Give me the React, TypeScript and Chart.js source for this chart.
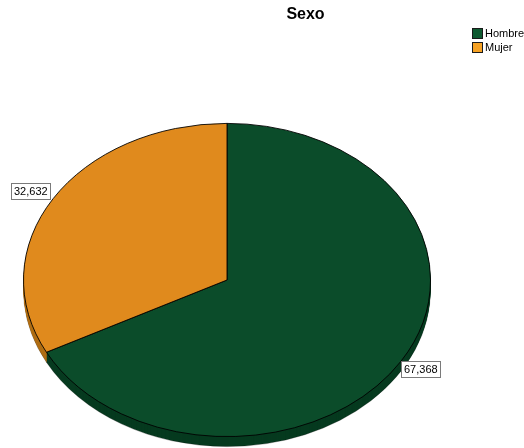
import React, { useEffect, useRef } from "react";
import { Chart, registerables } from "chart.js";

Chart.register(...registerables);

const title = "Sexo";
const categories = ["Hombre", "Mujer"];
const values = [67.368, 32.632];
const topColors = ["#0B4C2A", "#E08A1D"];
const sideColors = ["#063A1F", "#B06E14"];
const legendColors = ["#0E5A31", "#F6A224"];

const W = 524;
const H = 448;
const CENTER_Y = 280; // screen centre of the ellipse
const SQUASH = 157 / 204; // vertical squash of the pie
const DEPTH = 10;
const FONT = '"Liberation Sans", Arial, sans-serif';

const fmt = (v: number) => v.toFixed(3).replace(".", ",");

function applyTilt(ctx: CanvasRenderingContext2D, cy: number) {
  ctx.translate(0, CENTER_Y);
  ctx.scale(1, SQUASH);
  ctx.translate(0, -cy);
}

const tiltPlugin = {
  id: "tilt",
  beforeDatasetsDraw(chart: any) {
    const ctx: CanvasRenderingContext2D = chart.ctx;
    const meta = chart.getDatasetMeta(0);
    const arcs = meta.data as any[];
    if (!arcs.length) return;
    const cy = arcs[0].y;
    // side (depth) of the pie
    for (let d = DEPTH; d >= 1; d--) {
      ctx.save();
      ctx.translate(0, d);
      applyTilt(ctx, cy);
      arcs.forEach((arc, i) => {
        const p = arc.getProps(["x", "y", "startAngle", "endAngle", "outerRadius"], true);
        ctx.beginPath();
        ctx.moveTo(p.x, p.y);
        ctx.arc(p.x, p.y, p.outerRadius, p.startAngle, p.endAngle);
        ctx.closePath();
        ctx.fillStyle = sideColors[i];
        ctx.fill();
        if (d === DEPTH) {
          ctx.strokeStyle = "rgba(0,0,0,0.3)";
          ctx.lineWidth = 1;
          ctx.stroke();
        }
      });
      ctx.restore();
    }
    ctx.save();
    applyTilt(ctx, cy);
  },
  afterDatasetsDraw(chart: any) {
    const ctx: CanvasRenderingContext2D = chart.ctx;
    const meta = chart.getDatasetMeta(0);
    const arcs = meta.data as any[];
    if (!arcs.length) return;
    ctx.restore();
    const ds = chart.data.datasets[0].data as number[];
    // value labels
    ctx.save();
    ctx.font = `11px ${FONT}`;
    ctx.textBaseline = "middle";
    ctx.textAlign = "left";
    arcs.forEach((arc, i) => {
      const p = arc.getProps(["x", "y", "startAngle", "endAngle", "outerRadius"], true);
      const mid = (p.startAngle + p.endAngle) / 2;
      const c = Math.cos(mid);
      const s = Math.sin(mid);
      const ex = p.x + c * p.outerRadius;
      const ey = CENTER_Y + s * p.outerRadius * SQUASH;
      const text = fmt(ds[i]);
      const tw = ctx.measureText(text).width;
      const bw = Math.round(tw + 5);
      const bh = 16;
      const bx = Math.round(c >= 0 ? ex : ex - bw - 3);
      const by = Math.round(s >= 0 ? ey : ey - bh);
      ctx.fillStyle = "#ffffff";
      ctx.fillRect(bx + 0.5, by + 0.5, bw, bh);
      ctx.strokeStyle = "#7a7a7a";
      ctx.lineWidth = 1;
      ctx.strokeRect(bx + 0.5, by + 0.5, bw, bh);
      ctx.fillStyle = "#000000";
      ctx.fillText(text, bx + 3, by + bh / 2 + 1);
    });
    ctx.restore();
  },
  afterDraw(chart: any) {
    const ctx: CanvasRenderingContext2D = chart.ctx;
    ctx.save();
    // title
    ctx.fillStyle = "#000000";
    ctx.font = `bold 16px ${FONT}`;
    ctx.textAlign = "center";
    ctx.textBaseline = "alphabetic";
    ctx.fillText(title, 305.5, 19);
    // legend
    ctx.font = `11px ${FONT}`;
    ctx.textAlign = "left";
    ctx.textBaseline = "middle";
    categories.forEach((lab, i) => {
      const y = 28 + i * 14;
      ctx.fillStyle = legendColors[i];
      ctx.fillRect(472, y, 11, 11);
      ctx.strokeStyle = "#1a1a1a";
      ctx.lineWidth = 1;
      ctx.strokeRect(472.5, y + 0.5, 10, 10);
      ctx.fillStyle = "#000000";
      ctx.fillText(lab, 485, y + 6);
    });
    ctx.restore();
  },
};

export default function App() {
  const ref = useRef<HTMLCanvasElement | null>(null);
  useEffect(() => {
    document.body.style.margin = "0";
    const canvas = ref.current;
    if (!canvas) return;
    const chart = new Chart(canvas, {
      type: "pie",
      data: {
        labels: categories,
        datasets: [
          {
            data: values,
            backgroundColor: topColors,
            borderColor: "#000000",
            borderWidth: 1,
            clip: false,
          } as any,
        ],
      },
      options: {
        responsive: false,
        animation: false,
        devicePixelRatio: 1,
        rotation: 0,
        layout: { padding: { left: 23, right: W - 431, top: 20, bottom: 20 } },
        plugins: {
          legend: { display: false },
          title: { display: false },
          tooltip: { enabled: false },
        },
        events: [],
      } as any,
      plugins: [tiltPlugin],
    });
    return () => chart.destroy();
  }, []);
  return (
    <div style={{ width: W, height: H, background: "#ffffff" }}>
      <canvas ref={ref} width={W} height={H} />
    </div>
  );
}
